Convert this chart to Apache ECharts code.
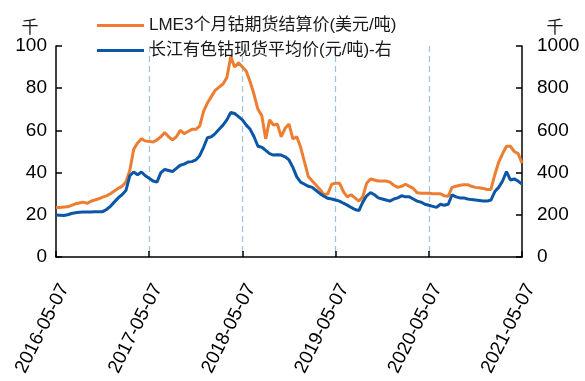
<!DOCTYPE html>
<html>
<head>
<meta charset="utf-8">
<script src="https://cdn.jsdelivr.net/npm/echarts@6/dist/echarts.min.js"></script>
<style>
  html, body { margin: 0; padding: 0; background: #fff; }
  #chart { width: 585px; height: 381px; }
</style>
</head>
<body>
<div id="chart"></div>
<script>
// Year marks shown on the time axis
const yearLabels = ['2016-05-07', '2017-05-07', '2018-05-07', '2019-05-07', '2020-05-07', '2021-05-07'];

// Semi-monthly observation dates (the 7th and 22nd of each month)
const dates = [];
for (let y = 2016; y <= 2021; y++) {
  for (let m = 1; m <= 12; m++) {
    for (const d of [7, 22]) {
      const s = y + '-' + String(m).padStart(2, '0') + '-' + String(d).padStart(2, '0');
      if (s >= '2016-05-07' && s <= '2021-05-07') dates.push(s);
    }
  }
}

// LME 3-month cobalt futures settlement price, thousand USD/t
const lmeCobalt = [
  23.5, 23.5, 23.7, 23.8, 24.5, 25.2, 25.6, 26.0, 25.4, 26.4, 27.0, 27.6, 28.4, 29.0, 30.0, 31.3, 32.5, 33.5, 35.5, 41.0, 51.0, 54.0, 56.0, 55.0, 54.8,
  54.5, 55.5, 57.0, 59.0, 57.0, 55.5, 57.0, 60.0, 58.5, 59.5, 60.5, 60.5, 62.0, 69.0, 73.0, 76.0, 79.0, 80.5, 82.0, 85.0, 95.0, 90.0, 92.0, 90.0,
  88.0, 83.0, 77.0, 70.0, 67.0, 56.0, 65.0, 62.5, 63.0, 57.0, 61.0, 63.0, 56.0, 57.0, 52.0, 45.0, 38.0, 36.0, 34.0, 32.0, 29.5, 30.0, 34.5, 35.0,
  35.0, 31.0, 28.5, 29.5, 28.0, 26.5, 28.5, 35.0, 37.0, 36.5, 36.0, 36.0, 36.0, 35.5, 34.0, 33.0, 33.5, 34.5, 33.5, 32.5, 30.5, 30.2, 30.2, 30.2,
  30.0, 30.0, 30.0, 29.0, 28.8, 33.0, 33.5, 34.0, 34.2, 34.3, 33.5, 33.0, 32.8, 32.5, 32.0, 32.0, 39.0, 45.0, 49.0, 52.5, 52.5, 50.0, 49.0, 44.5
];

// Changjiang spot cobalt average price, thousand CNY/t (right axis)
const cjCobalt = [
  199, 198, 197, 200, 206, 210, 212, 213, 213, 213, 214, 214, 215, 225, 240, 260, 280, 295, 315, 385, 403, 390, 403, 385, 373,
  360, 355, 400, 415, 410, 405, 420, 435, 440, 450, 452, 460, 480, 520, 565, 570, 585, 605, 625, 650, 685, 680, 665, 650,
  625, 605, 570, 525, 520, 505, 490, 483, 485, 483, 475, 460, 425, 380, 355, 345, 335, 330, 315, 300, 288, 278, 275, 270,
  265, 255, 246, 235, 225, 220, 260, 290, 305, 295, 280, 275, 270, 265, 275, 280, 290, 285, 285, 275, 265, 260, 250, 245,
  240, 235, 250, 245, 250, 295, 285, 280, 280, 275, 272, 270, 268, 265, 265, 270, 310, 330, 360, 405, 365, 370, 360, 345
];

const leftTicks = { min: 0, max: 100, interval: 20 };
const rightTicks = { min: 0, max: 1000, interval: 200 };

const FONT = "'Liberation Sans', Arial, 'Noto Sans CJK SC', sans-serif";
const ORANGE = '#ED7D31';
const BLUE = '#0B56A6';

const chart = echarts.init(document.getElementById('chart'), null, { renderer: 'canvas' });

const yearStep = dates.indexOf(yearLabels[1]);

chart.setOption({
  animation: false,
  textStyle: { fontFamily: FONT },
  grid: { left: 56, right: 63, top: 46, bottom: 124, containLabel: false },
  legend: {
    orient: 'vertical',
    left: 92,
    top: 12,
    itemWidth: 47,
    itemHeight: 3,
    itemGap: 8,
    icon: 'rect',
    textStyle: { fontSize: 17, color: '#1a1a1a', fontFamily: FONT },
    data: [
      { name: 'LME3个月钴期货结算价(美元/吨)', itemStyle: { color: ORANGE } },
      { name: '长江有色钴现货平均价(元/吨)-右', itemStyle: { color: BLUE } }
    ]
  },
  xAxis: {
    type: 'category',
    data: dates,
    boundaryGap: false,
    axisLine: { lineStyle: { color: '#000', width: 1.5 } },
    axisTick: { inside: true, length: 6, interval: yearStep - 1, lineStyle: { color: '#000', width: 1.5 } },
    axisLabel: {
      interval: yearStep - 1,
      rotate: 63,
      margin: 24,
      verticalAlign: 'top',
      fontSize: 19,
      color: '#000',
      fontFamily: FONT
    },
    splitLine: {
      show: true,
      interval: function (index) {
        return index > 0 && index < dates.length - 1 && index % yearStep === 0;
      },
      lineStyle: { color: '#9DC3E6', width: 1.2, type: [6, 4] }
    }
  },
  yAxis: [
    {
      type: 'value',
      min: leftTicks.min,
      max: leftTicks.max,
      interval: leftTicks.interval,
      name: '千',
      nameLocation: 'end',
      nameGap: 7,
      nameTextStyle: { fontSize: 17, color: '#1a1a1a', align: 'center', padding: [0, 52, 0, 0] },
      axisLine: { show: true, lineStyle: { color: '#000', width: 1.5 } },
      axisTick: { show: true, inside: true, length: 6, lineStyle: { color: '#000', width: 1.5 } },
      axisLabel: { fontSize: 19, color: '#000', margin: 9, fontFamily: FONT },
      splitLine: { show: false }
    },
    {
      type: 'value',
      min: rightTicks.min,
      max: rightTicks.max,
      interval: rightTicks.interval,
      name: '千',
      nameLocation: 'end',
      nameGap: 7,
      nameTextStyle: { fontSize: 17, color: '#1a1a1a', align: 'center', padding: [0, 0, 0, 66] },
      axisLine: { show: true, lineStyle: { color: '#000', width: 1.5 } },
      axisTick: { show: true, inside: true, length: 6, lineStyle: { color: '#000', width: 1.5 } },
      axisLabel: {
        fontSize: 19, color: '#000', margin: 15, fontFamily: FONT,
        formatter: function (v) { return String(v); }
      },
      splitLine: { show: false }
    }
  ],
  series: [
    {
      name: 'LME3个月钴期货结算价(美元/吨)',
      type: 'line',
      yAxisIndex: 0,
      data: lmeCobalt,
      symbol: 'none',
      lineStyle: { color: ORANGE, width: 3 },
      itemStyle: { color: ORANGE },
      z: 3
    },
    {
      name: '长江有色钴现货平均价(元/吨)-右',
      type: 'line',
      yAxisIndex: 1,
      data: cjCobalt,
      symbol: 'none',
      lineStyle: { color: BLUE, width: 3 },
      itemStyle: { color: BLUE },
      z: 4
    }
  ]
});
</script>
</body>
</html>
